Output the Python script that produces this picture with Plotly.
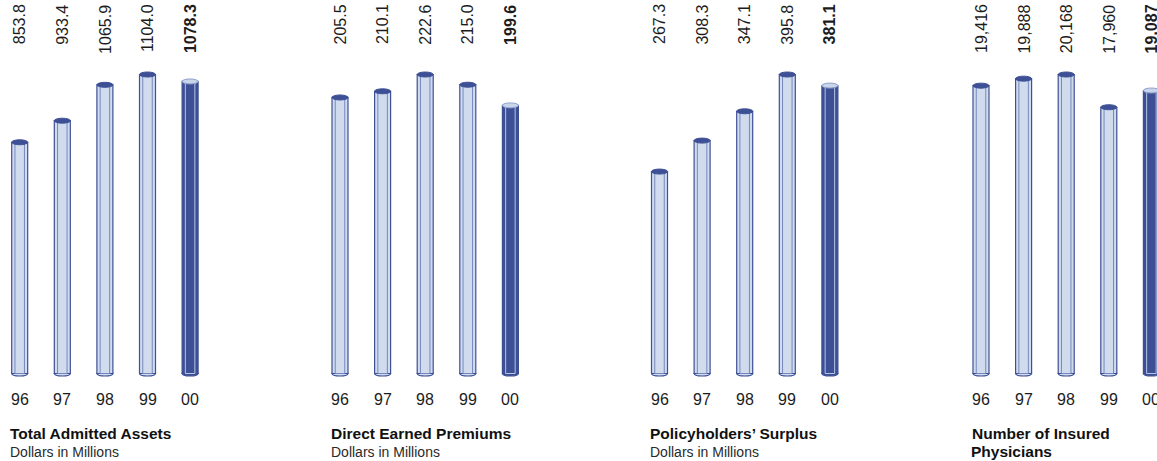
import plotly.graph_objects as go

# ---------------- data ----------------
years = ["96", "97", "98", "99", "00"]
titles = ["Total Admitted Assets", "Direct Earned Premiums",
          "Policyholders’ Surplus", "Number of Insured"]
title_line2 = ["", "", "", "Physicians"]
subtitles = ["Dollars in Millions", "Dollars in Millions", "Dollars in Millions", ""]
assets = [853.8, 933.4, 1065.9, 1104.0, 1078.3]
premiums = [205.5, 210.1, 222.6, 215.0, 199.6]
surplus = [267.3, 308.3, 347.1, 395.8, 381.1]
physicians = [19416, 19888, 20168, 17960, 19087]
assets_labels = ["853.8", "933.4", "1065.9", "1104.0", "1078.3"]
premiums_labels = ["205.5", "210.1", "222.6", "215.0", "199.6"]
surplus_labels = ["267.3", "308.3", "347.1", "395.8", "381.1"]
physicians_labels = ["19,416", "19,888", "20,168", "17,960", "19,087"]

series = [assets, premiums, surplus, physicians]
series_labels = [assets_labels, premiums_labels, surplus_labels, physicians_labels]

# ---------------- styling / geometry ----------------
W, H = 1157, 461
FONT = "Liberation Sans, Arial, Helvetica, sans-serif"
LIGHT = "#d0dcee"
DARK = "#3d4f95"
INNER_L = "#7787bd"
INNER_D = "#b7c5e4"
CAP_D_FILL = "#c9d5eb"
CAP_D_LINE = "#8e9ecb"
TXT = "#1c1c1c"

first_px = [19.7, 340.0, 659.5, 981.0]
step_px = 42.6
zero_px = 373.5      # pixel row of value 0
maxtop_px = 74.5     # pixel row of the panel maximum
ybot_px = 380.0      # bottom of plotting domain
bar_w_px = 16.0
inner_w_px = 9.5
cap_h_px = 5.0

fig = go.Figure()
layout_axes = {}
shapes = []
annotations = []

for p in range(4):
    vals = series[p]
    labs = series_labels[p]
    n = p + 1
    xa = "x" if n == 1 else f"x{n}"
    ya = "y" if n == 1 else f"y{n}"
    xkey = "xaxis" if n == 1 else f"xaxis{n}"
    ykey = "yaxis" if n == 1 else f"yaxis{n}"

    # x domain / range
    left_px = first_px[p] - 0.45 * step_px
    right_px = min(left_px + 4.9 * step_px, W)
    xr = [-0.45, -0.45 + (right_px - left_px) / step_px]
    bw = bar_w_px / step_px
    iw = inner_w_px / step_px

    # y domain / range
    vmax = max(vals)
    ppu = (zero_px - maxtop_px) / vmax
    yr = [-(ybot_px - zero_px) / ppu, zero_px / ppu]
    ch = cap_h_px / ppu

    xs = list(range(len(vals)))
    last = len(vals) - 1
    fills = [LIGHT if i < last else DARK for i in xs]
    inner_cols = [INNER_L if i < last else INNER_D for i in xs]

    fig.add_trace(go.Bar(
        x=xs, y=vals, width=bw, xaxis=xa, yaxis=ya,
        marker=dict(color=fills, line=dict(color=DARK, width=1.2)),
        hoverinfo="skip", showlegend=False))
    fig.add_trace(go.Bar(
        x=xs, y=vals, width=iw, xaxis=xa, yaxis=ya,
        marker=dict(color="rgba(0,0,0,0)", line=dict(color=inner_cols, width=1)),
        hoverinfo="skip", showlegend=False))

    for i, v in enumerate(vals):
        # bottom rounded end
        shapes.append(dict(type="circle", xref=xa, yref=ya, layer="below",
                           x0=i - bw / 2, x1=i + bw / 2, y0=-ch / 2, y1=ch / 2,
                           fillcolor=fills[i], line=dict(color=DARK, width=1.2)))
        # top cap
        shapes.append(dict(type="circle", xref=xa, yref=ya, layer="above",
                           x0=i - bw / 2, x1=i + bw / 2, y0=v - ch / 2, y1=v + ch / 2,
                           fillcolor=DARK if i < last else CAP_D_FILL,
                           line=dict(color=DARK if i < last else CAP_D_LINE, width=1)))
        # value label
        annotations.append(dict(
            xref=xa, yref="paper", x=i, y=1 - 2.5 / H,
            xanchor="center", yanchor="top", textangle=-90, showarrow=False,
            text=f"<b>{labs[i]}</b>" if i == last else labs[i],
            font=dict(family=FONT, size=16, color=TXT)))
        # category label under the bar (placed on the x axis scale)
        annotations.append(dict(
            xref=xa, yref="paper", x=i, y=1 - 399 / H,
            xanchor="center", yanchor="middle", showarrow=False,
            text=years[i], font=dict(family=FONT, size=16, color=TXT)))

    # titles
    tx = (first_px[p] - 11.5) / W
    annotations.append(dict(xref="paper", yref="paper", x=tx, y=1 - 433.5 / H,
                            xanchor="left", yanchor="middle", showarrow=False,
                            text=f"<b>{titles[p]}</b>",
                            font=dict(family=FONT, size=15.5, color="#111111")))
    if title_line2[p]:
        annotations.append(dict(xref="paper", yref="paper", x=tx, y=1 - 451.5 / H,
                                xanchor="left", yanchor="middle", showarrow=False,
                                text=f"<b>{title_line2[p]}</b>",
                                font=dict(family=FONT, size=15.5, color="#111111")))
    if subtitles[p]:
        annotations.append(dict(xref="paper", yref="paper", x=tx, y=1 - 451.5 / H,
                                xanchor="left", yanchor="middle", showarrow=False,
                                text=subtitles[p],
                                font=dict(family=FONT, size=14, color="#2a2a2a")))

    layout_axes[xkey] = dict(domain=[left_px / W, right_px / W], range=xr,
                             anchor=ya, showticklabels=False, ticks="",
                             showgrid=False, zeroline=False, showline=False)
    layout_axes[ykey] = dict(domain=[(H - ybot_px) / H, 1.0], range=yr,
                             anchor=xa, showgrid=False, zeroline=False,
                             showline=False, showticklabels=False, ticks="")

fig.update_layout(
    width=W, height=H, margin=dict(l=0, r=0, t=0, b=0),
    paper_bgcolor="white", plot_bgcolor="white",
    barmode="overlay", showlegend=False,
    shapes=shapes, annotations=annotations,
    **layout_axes)

fig.write_html("out.html")
